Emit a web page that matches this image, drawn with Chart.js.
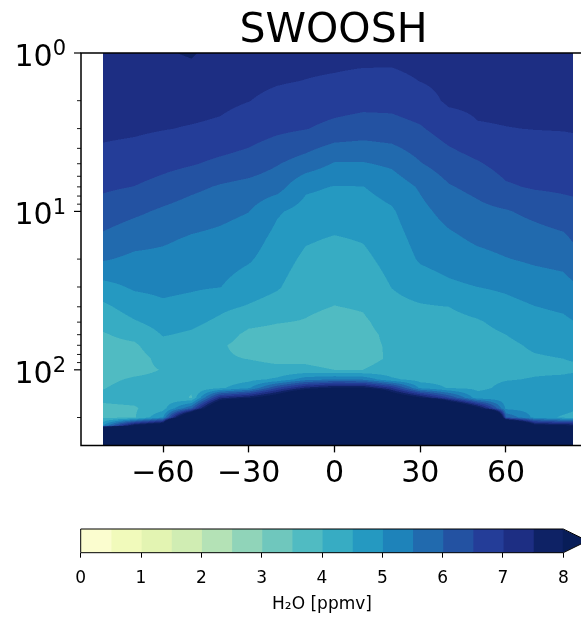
<!DOCTYPE html>
<html lang="en">
<head>
<meta charset="UTF-8" />
<title>SWOOSH H2O</title>
<script src="https://cdn.jsdelivr.net/npm/chart.js"></script>
<style>
  html, body { margin: 0; padding: 0; background: #fff; }
  body { width: 581px; height: 621px; overflow: hidden; position: relative; }
  #wrap { position: absolute; left: 0; top: 0; width: 581px; height: 621px; overflow: hidden; }
  #plot { position: absolute; left: 0; top: 0; }
  #cbar { position: absolute; left: 0; top: 510px; }
</style>
</head>
<body>
<div id="wrap">
  <canvas id="plot" width="590" height="500"></canvas>
  <canvas id="cbar" width="590" height="111"></canvas>
</div>
<script>
// zonal mean H2O [ppmv], rows = pressure levels (hPa), columns = latitudes
const latitudes = [-81, -70, -60, -50, -40, -30, -20, -10, 0, 10, 20, 30, 40, 50, 60, 70, 80, 83.5];
const pressures = [1, 1.5, 2, 3, 5, 7, 10, 15, 20, 30, 40, 50, 60, 70, 85, 100, 115, 130, 150, 175, 200, 225, 260, 300];
const h2o = [
  [7.35, 7.35, 7.45, 7.55, 7.3, 7.25, 7.2, 7.15, 7.15, 7.15, 7.15, 7.2, 7.25, 7.3, 7.3, 7.3, 7.3, 7.3],
  [7.24, 7.24, 7.26, 7.3, 7.17, 7.11, 7.04, 6.99, 6.94, 6.87, 6.86, 7.01, 7.13, 7.18, 7.19, 7.19, 7.2, 7.2],
  [7.17, 7.15, 7.16, 7.17, 7.1, 7.01, 6.88, 6.8, 6.73, 6.66, 6.66, 6.79, 7.08, 7.1, 7.11, 7.12, 7.13, 7.13],
  [7.1, 7.07, 7.02, 6.97, 6.92, 6.76, 6.61, 6.52, 6.36, 6.27, 6.31, 6.45, 6.74, 6.96, 6.99, 7.01, 7.02, 7.03],
  [6.85, 6.78, 6.65, 6.54, 6.39, 6.28, 6.03, 5.78, 5.46, 5.46, 5.59, 5.97, 6.26, 6.45, 6.68, 6.74, 6.77, 6.8],
  [6.58, 6.49, 6.32, 6.12, 5.95, 5.83, 5.69, 5.09, 4.98, 4.99, 5.2, 5.56, 5.96, 6.14, 6.44, 6.55, 6.59, 6.6],
  [6.28, 6.1, 5.92, 5.76, 5.64, 5.51, 5.06, 4.81, 4.73, 4.78, 4.94, 5.36, 5.68, 5.86, 5.96, 6.13, 6.29, 6.35],
  [5.89, 5.67, 5.57, 5.44, 5.37, 5.24, 4.84, 4.55, 4.46, 4.53, 4.78, 5.18, 5.39, 5.58, 5.68, 5.78, 5.89, 6.04],
  [5.55, 5.39, 5.37, 5.28, 5.22, 5.06, 4.72, 4.4, 4.32, 4.39, 4.67, 5.06, 5.21, 5.35, 5.48, 5.58, 5.65, 5.8],
  [4.83, 5.07, 5.12, 5.06, 5.01, 4.73, 4.55, 4.21, 4.13, 4.19, 4.51, 4.73, 4.9, 5.0, 5.09, 5.24, 5.32, 5.42],
  [4.39, 4.74, 4.91, 4.83, 4.61, 4.46, 4.3, 4.08, 3.99, 4.04, 4.35, 4.45, 4.5, 4.67, 4.84, 4.99, 5.08, 5.18],
  [4.13, 4.45, 4.7, 4.61, 4.4, 4.11, 4.02, 3.97, 3.85, 3.93, 4.2, 4.3, 4.35, 4.45, 4.65, 4.83, 4.9, 4.98],
  [3.96, 4.14, 4.53, 4.43, 4.2, 3.9, 3.85, 3.85, 3.75, 3.88, 4.1, 4.2, 4.25, 4.35, 4.5, 4.69, 4.76, 4.83],
  [3.87, 3.93, 4.35, 4.3, 4.05, 3.85, 3.8, 3.8, 3.72, 3.9, 4.05, 4.15, 4.2, 4.3, 4.4, 4.57, 4.64, 4.7],
  [3.76, 3.8, 4.15, 4.2, 4.05, 3.99, 3.9, 3.9, 3.8, 3.88, 4.05, 4.15, 4.2, 4.3, 4.35, 4.45, 4.5, 4.52],
  [3.83, 3.88, 4.02, 4.15, 4.1, 4.15, 4.1, 4.1, 4.0, 4.0, 4.15, 4.2, 4.25, 4.35, 4.4, 4.45, 4.45, 4.45],
  [3.91, 4.05, 4.1, 4.1, 4.2, 4.35, 4.6, 5.3, 5.5, 5.4, 4.6, 4.3, 4.3, 4.4, 4.48, 4.52, 4.55, 4.6],
  [3.98, 4.15, 4.2, 4.05, 4.4, 4.9, 6.5, 7.6, 8.1, 8.1, 7.0, 4.9, 4.45, 4.4, 4.6, 4.65, 4.8, 5.0],
  [4.1, 4.15, 4.25, 3.97, 7.3, 7.9, 8.9, 11, 15, 15, 9.4, 8.1, 6.5, 4.7, 4.7, 4.75, 4.9, 4.9],
  [3.9, 3.95, 4.3, 6.0, 10.5, 15, 20, 25, 30, 30, 25, 20, 11.3, 8.5, 4.9, 4.8, 4.75, 4.6],
  [3.9, 3.95, 5.0, 11, 25, 30, 35, 35, 40, 40, 35, 35, 30, 25, 6.0, 4.85, 4.4, 4.3],
  [5.0, 8.3, 9.4, 30, 40, 45, 45, 45, 50, 50, 45, 45, 40, 40, 14, 8.5, 8.2, 8.1],
  [30, 30, 30, 50, 60, 60, 60, 60, 60, 60, 60, 60, 60, 60, 40, 30, 30, 30],
  [60, 60, 60, 70, 80, 80, 80, 80, 80, 80, 80, 80, 80, 80, 70, 60, 60, 60]
];

const levels = [0, 0.5, 1, 1.5, 2, 2.5, 3, 3.5, 4, 4.5, 5, 5.5, 6, 6.5, 7, 7.5, 8];
// YlGnBu sampled at band midpoints
const levelColors = ['#fbfdcf', '#f1fabb', '#e3f4b2', '#d0edb3', '#b4e2b6', '#90d4b9', '#6fc7bd', '#50bbc2',
                     '#37acc3', '#2599c1', '#1e83ba', '#216aae', '#2352a2', '#243d98', '#1d2e83', '#0e2265'];
const overColor = '#081d58';

const xTicks = [-60, -30, 0, 30, 60];
const yMajorTicks = [1, 10, 100];
const yMinorTicks = [2, 3, 4, 5, 6, 7, 8, 9, 20, 30, 40, 50, 60, 70, 80, 90, 200];
const cbarTicks = [0, 1, 2, 3, 4, 5, 6, 7, 8];

Chart.defaults.font.family = '"DejaVu Sans", sans-serif';
Chart.defaults.color = '#000';

function hexRgb(h) {
  return [parseInt(h.slice(1, 3), 16), parseInt(h.slice(3, 5), 16), parseInt(h.slice(5, 7), 16)];
}
const bandRgb = levelColors.map(hexRgb);
const overRgb = hexRgb(overColor);

function colorFor(v) {
  if (v >= levels[levels.length - 1]) return overRgb;
  for (let k = levels.length - 2; k >= 0; k--) {
    if (v >= levels[k]) return bandRgb[k];
  }
  return bandRgb[0];
}

function locate(arr, v) {
  if (v < arr[0] || v > arr[arr.length - 1]) return null;
  let i = 0;
  while (i < arr.length - 2 && v > arr[i + 1]) i++;
  return [i, (v - arr[i]) / (arr[i + 1] - arr[i])];
}

const logP = pressures.map(p => Math.log10(p));

// filled contours, sampled through the chart scales
const fieldPlugin = {
  id: 'contourField',
  beforeDatasetsDraw(chart) {
    const { ctx, chartArea: a, scales: { x, y } } = chart;
    const px0 = Math.max(Math.floor(x.getPixelForValue(latitudes[0])), Math.floor(a.left));
    const px1 = Math.min(Math.ceil(x.getPixelForValue(latitudes[latitudes.length - 1])), Math.ceil(a.right));
    const py0 = Math.floor(a.top), py1 = Math.ceil(a.bottom);
    const w = px1 - px0, h = py1 - py0;
    const img = ctx.createImageData(w, h);
    const sub = [0.25, 0.75];
    const cols = [], rows = [];
    for (let i = 0; i < w; i++) for (const s of sub) cols.push(locate(latitudes, x.getValueForPixel(px0 + i + s)));
    for (let j = 0; j < h; j++) for (const s of sub) {
      const py = py0 + j + s;
      rows.push(py < a.top || py > a.bottom ? null : locate(logP, Math.log10(y.getValueForPixel(py))));
    }
    for (let j = 0; j < h; j++) {
      for (let i = 0; i < w; i++) {
        let r = 0, g = 0, b = 0, n = 0;
        for (let sj = 0; sj < 2; sj++) {
          const R = rows[j * 2 + sj];
          if (!R) continue;
          for (let si = 0; si < 2; si++) {
            const C = cols[i * 2 + si];
            if (!C) continue;
            const [ri, rf] = R, [ci, cf] = C;
            const top = h2o[ri][ci] * (1 - cf) + h2o[ri][ci + 1] * cf;
            const bot = h2o[ri + 1][ci] * (1 - cf) + h2o[ri + 1][ci + 1] * cf;
            const c = colorFor(top * (1 - rf) + bot * rf);
            r += c[0]; g += c[1]; b += c[2]; n++;
          }
        }
        if (!n) continue;
        const o = (j * w + i) * 4;
        img.data[o] = r / n; img.data[o + 1] = g / n; img.data[o + 2] = b / n;
        img.data[o + 3] = Math.round(255 * n / 4);
      }
    }
    ctx.putImageData(img, px0, py0);
  }
};

const framePlugin = {
  id: 'frame',
  afterDraw(chart) {
    const { ctx, chartArea: a, scales: { y } } = chart;
    ctx.save();
    ctx.strokeStyle = '#000';
    ctx.lineWidth = 1.5;
    ctx.beginPath();
    ctx.moveTo(a.right + 5, a.top);
    ctx.lineTo(a.left, a.top);
    ctx.lineTo(a.left, a.bottom);
    ctx.lineTo(a.right + 5, a.bottom);
    ctx.stroke();

    ctx.lineWidth = 1.2;
    for (const v of yMajorTicks) {
      const py = y.getPixelForValue(v);
      ctx.beginPath(); ctx.moveTo(a.left - 7, py); ctx.lineTo(a.left, py); ctx.stroke();
    }
    ctx.lineWidth = 0.9;
    for (const v of yMinorTicks) {
      const py = y.getPixelForValue(v);
      ctx.beginPath(); ctx.moveTo(a.left - 4, py); ctx.lineTo(a.left, py); ctx.stroke();
    }

    ctx.fillStyle = '#000';
    ctx.textBaseline = 'alphabetic';
    ctx.textAlign = 'left';
    for (const v of yMajorTicks) {
      const py = y.getPixelForValue(v);
      const e = String(Math.round(Math.log10(v)));
      ctx.font = '30px "DejaVu Sans"';
      const wb = ctx.measureText('10').width;
      ctx.font = '21px "DejaVu Sans"';
      const we = ctx.measureText(e).width;
      const x0 = a.left - 15 - wb - we;
      ctx.font = '30px "DejaVu Sans"';
      ctx.fillText('10', x0, py + 12.9);
      ctx.font = '21px "DejaVu Sans"';
      ctx.fillText(e, x0 + wb, py + 2.3);
    }

    ctx.font = '41px "DejaVu Sans"';
    ctx.textAlign = 'center';
    ctx.fillText('SWOOSH', (a.left + a.right) / 2 - 1, 41.7);
    ctx.restore();
  }
};

const gridPoints = [];
pressures.forEach((p, k) => latitudes.forEach((lat, i) => gridPoints.push({ x: lat, y: p, v: h2o[k][i] })));

new Chart(document.getElementById('plot'), {
  type: 'scatter',
  data: { datasets: [{ data: gridPoints, pointRadius: 0, pointHoverRadius: 0 }] },
  options: {
    responsive: false,
    animation: false,
    devicePixelRatio: 1,
    events: [],
    layout: { padding: { top: 53, right: 2, left: 0, bottom: 0 } },
    plugins: { legend: { display: false }, tooltip: { enabled: false } },
    scales: {
      x: {
        type: 'linear', min: -88.7, max: 88.7,
        afterBuildTicks: s => { s.ticks = xTicks.map(v => ({ value: v })); },
        afterFit: s => { s.height = 54.6; },
        border: { display: false },
        grid: { drawOnChartArea: false, tickLength: 7, tickWidth: 1.3, tickColor: '#000' },
        ticks: {
          font: { size: 30 }, color: '#000', padding: 4, maxRotation: 0, autoSkip: false,
          callback: v => (v < 0 ? '\u2212' + Math.abs(v) : String(v))
        }
      },
      y: {
        type: 'logarithmic', reverse: true, min: 1, max: 300,
        afterFit: s => { s.width = 81; },
        grid: { display: false },
        border: { display: false },
        ticks: { display: false }
      }
    }
  },
  plugins: [fieldPlugin, framePlugin]
});

// colorbar with the "max" extension triangle
const cbarOutline = {
  id: 'cbarOutline',
  afterDatasetsDraw(chart) {
    const { ctx, chartArea: a, scales: { x } } = chart;
    const x0 = x.getPixelForValue(levels[0]);
    const x8 = x.getPixelForValue(levels[levels.length - 1]);
    const tip = x8 + 0.05 * (x8 - x0);
    const mid = (a.top + a.bottom) / 2;
    ctx.save();
    ctx.fillStyle = overColor;
    ctx.beginPath();
    ctx.moveTo(x8 - 0.5, a.top); ctx.lineTo(tip, mid); ctx.lineTo(x8 - 0.5, a.bottom); ctx.closePath();
    ctx.fill();
    ctx.strokeStyle = '#000';
    ctx.lineWidth = 1;
    ctx.beginPath();
    ctx.moveTo(x0, a.top); ctx.lineTo(x8, a.top); ctx.lineTo(tip, mid); ctx.lineTo(x8, a.bottom);
    ctx.lineTo(x0, a.bottom); ctx.closePath();
    ctx.stroke();
    ctx.restore();
  }
};

new Chart(document.getElementById('cbar'), {
  type: 'bar',
  data: {
    labels: [''],
    datasets: levelColors.map((c, i) => ({
      data: [levels[i + 1] - levels[i]],
      backgroundColor: c, borderWidth: 0,
      barPercentage: 1, categoryPercentage: 1, inflateAmount: 0.6
    }))
  },
  options: {
    indexAxis: 'y',
    responsive: false,
    animation: false,
    devicePixelRatio: 1,
    events: [],
    layout: { padding: { left: 80.7, right: 26.7, top: 19, bottom: 0 } },
    plugins: { legend: { display: false }, tooltip: { enabled: false } },
    scales: {
      x: {
        stacked: true, min: 0, max: 8,
        afterBuildTicks: s => { s.ticks = cbarTicks.map(v => ({ value: v })); },
        afterFit: s => { s.height = 68.3; },
        border: { display: false },
        grid: { drawOnChartArea: false, tickLength: 5, tickWidth: 1, tickColor: '#000' },
        ticks: { font: { size: 17 }, color: '#000', padding: 11, maxRotation: 0, autoSkip: false },
        title: { display: true, text: 'H\u2082O [ppmv]', font: { size: 17 }, color: '#000', padding: { top: 0, bottom: 5.8 } }
      },
      y: { stacked: true, display: false }
    }
  },
  plugins: [cbarOutline]
});
</script>
</body>
</html>
